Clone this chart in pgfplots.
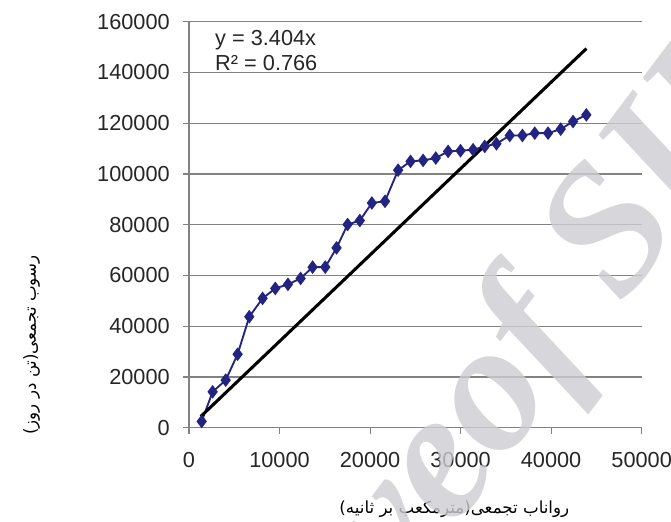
\documentclass[border=0pt]{standalone}
\usepackage{fontspec}
\setmainfont{Liberation Sans}
\newfontfamily\arabicfont[Script=Arabic]{DejaVu Sans}
\newfontfamily\wmfont{Liberation Serif}
\TeXXeTstate=1
\usepackage{pgfplots}
\pgfplotsset{compat=1.18}
\definecolor{ser}{RGB}{35,35,130}
\definecolor{gridc}{RGB}{130,130,130}
\definecolor{wm}{RGB}{205,205,210}
\pgfplotstableread{
x y
1400 2480
2610 14150
4050 18750
5370 28970
6660 43750
8130 50980
9530 54900
10930 56490
12330 58850
13650 63290
15050 63290
16300 70880
17520 80080
18870 81650
20200 88570
21650 89240
23100 101500
24470 104960
25860 105360
27260 106270
28620 108900
29990 109170
31380 109560
32670 110860
33960 111900
35430 115180
36830 115180
38190 116090
39660 116090
41060 117660
42420 120680
43890 123300
}\datatable
\begin{document}
\begin{tikzpicture}
\useasboundingbox (-141.75pt,-70pt) rectangle (361.5pt,320.8pt);
\begin{axis}[
  at={(0,0)}, anchor=south west,
  scale only axis,
  width=339.5pt, height=304.5pt,
  xmin=0, xmax=50000, ymin=0, ymax=160000,
  xtick={0,10000,20000,30000,40000,50000},
  ytick={0,20000,40000,60000,80000,100000,120000,140000,160000},
  scaled ticks=false,
  axis x line*=bottom, axis y line*=left,
  axis line style={gridc, line width=0.8pt, -},
  tick style={gridc, line width=0.8pt},
  tick align=outside,
  major tick length=4.5pt,
  ymajorgrids,
  grid style={gridc, line width=0.8pt},
  /pgf/number format/assume math mode=true,
  /pgf/number format/1000 sep={},
  /pgf/number format/fixed,
  ticklabel style={font=\fontsize{16.3}{18}\selectfont, text=black!85},
  xticklabel style={anchor=north, inner sep=0pt, yshift=-14pt},
  yticklabel style={anchor=east, inner sep=0pt, xshift=-9.75pt},
  clip=false,
]
\addplot[ser, line width=1.4pt, mark=diamond*, mark size=4pt, mark options={solid, fill=ser}] table[x=x,y=y] {\datatable};
\addplot[black, line width=2.3pt] coordinates {(1300,4425) (43900,149436)};
\node[anchor=base west, inner sep=0pt, font=\fontsize{16.3}{18}\selectfont, text=black!85] at (axis cs:2870,150800) {y = 3.404x};
\node[anchor=base west, inner sep=0pt, font=\fontsize{16.3}{18}\selectfont, text=black!85] at (axis cs:2870,140960) {R² = 0.766};
\end{axis}
\node[rotate=90, inner sep=0pt, font=\fontsize{12.5}{14}\selectfont] at (-118pt,62pt) {\arabicfont\beginR رسوب تجمعی(تن در روز)\endR};
\node[inner sep=0pt, font=\fontsize{12.5}{14}\selectfont] at (199pt,-61pt) {\arabicfont\beginR رواناب تجمعی(مترمکعب بر ثانیه)\endR};
\begin{scope}[opacity=0.8]
\node[rotate=53, anchor=base west, inner sep=0pt, text=wm, font=\wmfont\bfseries\itshape\fontsize{138}{140}\selectfont] at (235pt,-28pt) {of SID};
\node[rotate=53, anchor=base east, inner sep=0pt, text=wm, font=\wmfont\bfseries\itshape\fontsize{138}{140}\selectfont] at (235pt,-28pt) {Archive\ };
\end{scope}
\end{tikzpicture}
\end{document}
